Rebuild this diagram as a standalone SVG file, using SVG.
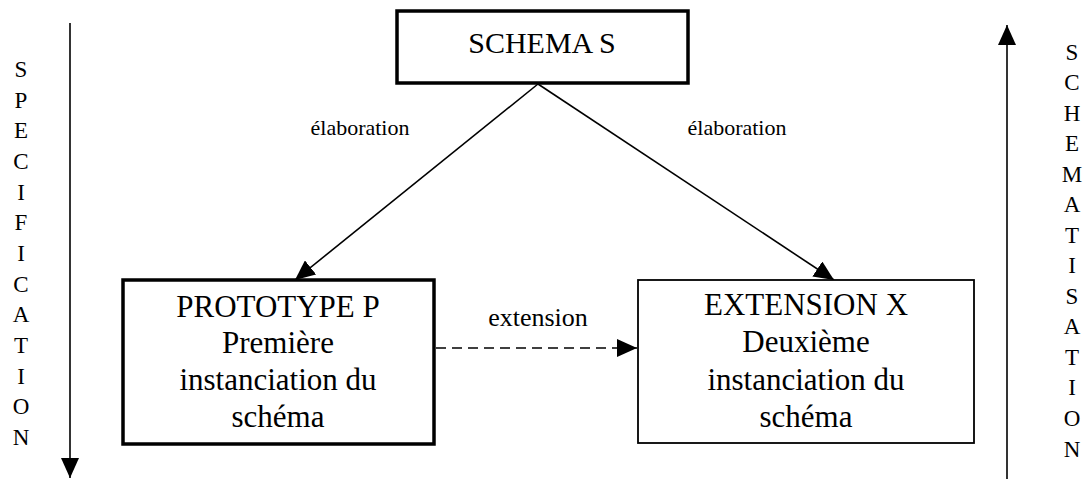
<svg xmlns="http://www.w3.org/2000/svg" width="1083" height="479" viewBox="0 0 1083 479">
  <defs>
    <style>
      .t { font-family: "Liberation Serif", "Times New Roman", serif; fill: #000; }
      .big { font-size: 31px; text-anchor: middle; }
      .title { font-size: 30px; text-anchor: middle; }
      .lbl { font-size: 22px; text-anchor: middle; }
      .lbl2 { font-size: 26px; text-anchor: middle; }
      .vert { font-size: 23px; text-anchor: middle; }
      .box { fill: #fff; stroke: #000; }
      .thick { stroke-width: 3.5; }
      .thin { stroke-width: 1.8; }
      .conn { stroke: #000; stroke-width: 1.6; fill: none; }
      .dash { stroke-dasharray: 10 6; }
    </style>
    <marker id="ah" viewBox="0 0 20 20" refX="20" refY="10" markerWidth="20" markerHeight="18" markerUnits="userSpaceOnUse" orient="auto" preserveAspectRatio="none">
      <path d="M0,0 L20,10 L0,20 z" fill="#000"/>
    </marker>
  </defs>

  <g id="connectors">
    <line class="conn" x1="538" y1="84" x2="295" y2="280" marker-end="url(#ah)"/>
    <line class="conn" x1="538" y1="84" x2="834" y2="280" marker-end="url(#ah)"/>
    <line class="conn dash" x1="436" y1="348" x2="637" y2="348" marker-end="url(#ah)"/>
    <line class="conn" x1="70" y1="23" x2="70" y2="478" marker-end="url(#ah)"/>
    <line class="conn" x1="1007" y1="479" x2="1007" y2="25" marker-end="url(#ah)"/>
    <text class="t lbl" x="360" y="135">élaboration</text>
    <text class="t lbl" x="737" y="135">élaboration</text>
    <text class="t lbl2" x="538" y="326">extension</text>
  </g>

  <g id="schema">
    <rect class="box thick" x="397" y="11" width="291" height="72"/>
    <text class="t title" x="542" y="53">SCHEMA S</text>
  </g>

  <g id="prototype">
    <rect class="box thick" x="123" y="280" width="311" height="164"/>
    <text class="t big" x="278" y="317">PROTOTYPE P</text>
    <text class="t big" x="278" y="353">Première</text>
    <text class="t big" x="278" y="390">instanciation du</text>
    <text class="t big" x="278" y="427">schéma</text>
  </g>

  <g id="extension">
    <rect class="box thin" x="638" y="280" width="336" height="163"/>
    <text class="t big" x="806" y="315">EXTENSION X</text>
    <text class="t big" x="806" y="352">Deuxième</text>
    <text class="t big" x="806" y="390">instanciation du</text>
    <text class="t big" x="806" y="427">schéma</text>
  </g>

  <g id="specification">
    <text class="t vert" x="21" y="77">S</text>
    <text class="t vert" x="21" y="108">P</text>
    <text class="t vert" x="21" y="138">E</text>
    <text class="t vert" x="21" y="169">C</text>
    <text class="t vert" x="21" y="200">I</text>
    <text class="t vert" x="21" y="230">F</text>
    <text class="t vert" x="21" y="261">I</text>
    <text class="t vert" x="21" y="292">C</text>
    <text class="t vert" x="21" y="322">A</text>
    <text class="t vert" x="21" y="353">T</text>
    <text class="t vert" x="21" y="384">I</text>
    <text class="t vert" x="21" y="414">O</text>
    <text class="t vert" x="21" y="445">N</text>
  </g>

  <g id="schematisation">
    <text class="t vert" x="1072" y="60">S</text>
    <text class="t vert" x="1072" y="90">C</text>
    <text class="t vert" x="1072" y="121">H</text>
    <text class="t vert" x="1072" y="151">E</text>
    <text class="t vert" x="1072" y="182">M</text>
    <text class="t vert" x="1072" y="212">A</text>
    <text class="t vert" x="1072" y="243">T</text>
    <text class="t vert" x="1072" y="273">I</text>
    <text class="t vert" x="1072" y="304">S</text>
    <text class="t vert" x="1072" y="334">A</text>
    <text class="t vert" x="1072" y="365">T</text>
    <text class="t vert" x="1072" y="395">I</text>
    <text class="t vert" x="1072" y="426">O</text>
    <text class="t vert" x="1072" y="457">N</text>
  </g>
</svg>
